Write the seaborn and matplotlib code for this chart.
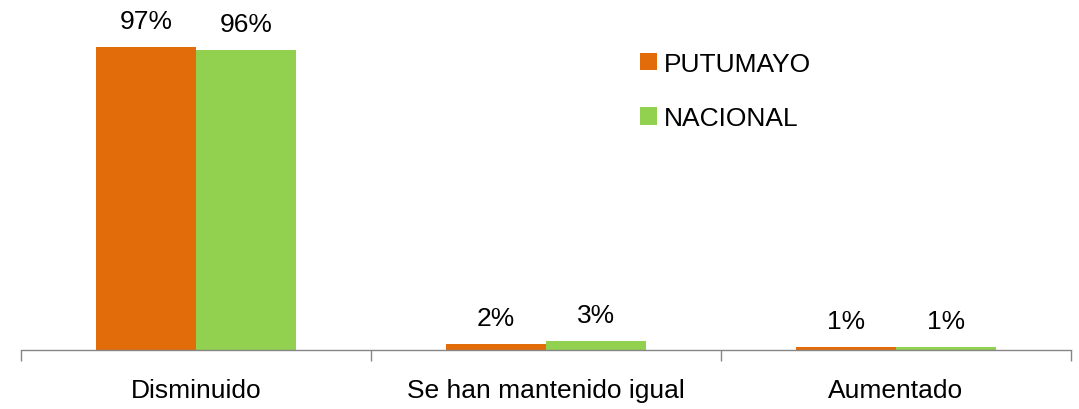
import numpy as np
import pandas as pd
import seaborn as sns
import matplotlib.pyplot as plt
from matplotlib.patches import Patch

categorias = ["Disminuido", "Se han mantenido igual", "Aumentado"]
series = ["PUTUMAYO", "NACIONAL"]
putumayo = [97, 2, 1]
nacional = [96, 3, 1]
colores = ["#E36C0A", "#92D050"]

df = pd.DataFrame({
    "categoria": categorias * 2,
    "serie": [series[0]] * 3 + [series[1]] * 3,
    "valor": putumayo + nacional,
})

sns.set_style("white")
plt.rcParams["font.family"] = ["Liberation Sans Narrow", "Liberation Sans", "DejaVu Sans"]
plt.rcParams["text.color"] = "black"
plt.rcParams["xtick.color"] = "black"

fig = plt.figure(figsize=(10.79, 4.10), dpi=100)
ax = fig.add_axes([21 / 1079, 59 / 410, 1050 / 1079, 351 / 410])

sns.barplot(data=df, x="categoria", y="valor", hue="serie", order=categorias,
            hue_order=series, palette=colores, width=0.571, gap=0,
            saturation=1, linewidth=0, ax=ax, legend=False)

for cont in ax.containers:
    ax.bar_label(cont, labels=[f"{v:.0f}%" for v in cont.datavalues],
                 padding=10, fontsize=19, color="black")

ax.set_ylim(0, 351 / 3.124)
ax.set_xlim(-0.5, 2.5)
ax.set_xlabel("")
ax.set_ylabel("")
ax.set_yticks([])
for s in ["top", "right", "left"]:
    ax.spines[s].set_visible(False)
ax.spines["bottom"].set_color("#868686")
ax.spines["bottom"].set_linewidth(1)

ax.set_xticks([0, 1, 2])
ax.set_xticklabels(categorias, fontsize=19, color="black")
ax.set_xticks([-0.5, 0.5, 1.5, 2.5], minor=True)
ax.tick_params(axis="x", which="major", bottom=True, length=0, pad=20)
ax.tick_params(axis="x", which="minor", bottom=True, length=8,
               color="#868686", width=1, direction="out")

handles = [Patch(color=c, linewidth=0) for c in colores]
leg = ax.legend(handles, series, loc="upper left", bbox_to_anchor=(595 / 1050, 1 - 29 / 351),
                frameon=False, fontsize=19, handlelength=0.65, handleheight=0.65,
                handletextpad=0.25, labelspacing=1.15)
for t in leg.get_texts():
    t.set_color("black")

fig.savefig("out.png", dpi=100)
